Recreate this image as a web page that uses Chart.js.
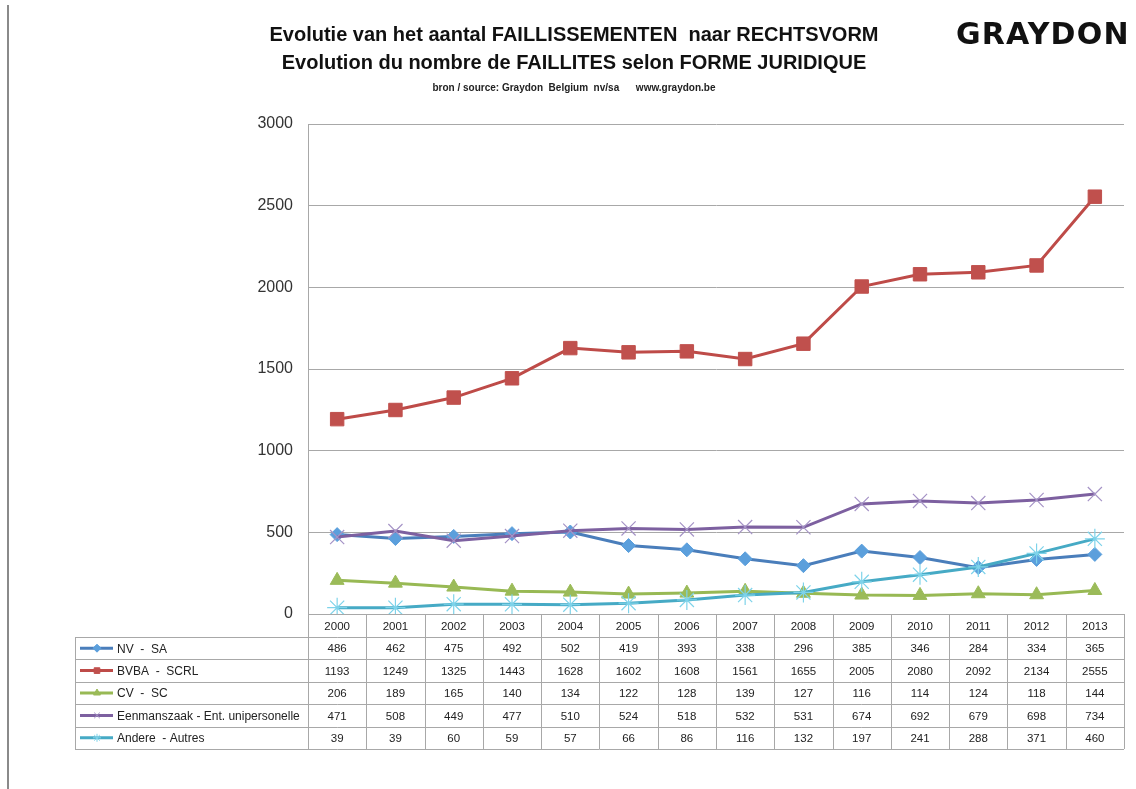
<!DOCTYPE html>
<html>
<head>
<meta charset="utf-8">
<script src="https://cdn.jsdelivr.net/npm/chart.js@4/dist/chart.umd.min.js"></script>
<style>
    body { margin: 0; background: #fff; }
    #wrap { position: relative; width: 1136px; height: 789px; }
    #myChart { position: absolute; left: 0; top: 0; }
    #leftLine { position: absolute; left: 7px; top: 5px; width: 2px; height: 784px; background: #8a8a8a; }
    .t1, .t2, .src { position: absolute; left: 0; width: 1148px; text-align: center; font-family: "Liberation Sans", Arial, sans-serif; font-weight: bold; color: #111; }
    .t1 { top: 23px; font-size: 20px; }
    .t2 { top: 51px; font-size: 20px; }
    .src { top: 82px; font-size: 10px; color: #222; }
    #logo { position: absolute; left: 956px; top: 16px; font-family: "DejaVu Sans", sans-serif; font-weight: bold; font-size: 30px; color: #111; letter-spacing: 1.2px; }
</style>
</head>
<body>
<div id="wrap">
    <canvas id="myChart" width="1136" height="789"></canvas>
    <div id="leftLine"></div>
    <div class="t1">Evolutie van het aantal FAILLISSEMENTEN&nbsp; naar RECHTSVORM</div>
    <div class="t2">Evolution du nombre de FAILLITES selon FORME JURIDIQUE</div>
    <div class="src">bron / source: Graydon&nbsp; Belgium&nbsp; nv/sa&nbsp;&nbsp;&nbsp;&nbsp;&nbsp; www.graydon.be</div>
    <div id="logo">GRAYDON</div>
</div>
<script>
// jaren
var years = ['2000', '2001', '2002', '2003', '2004', '2005', '2006', '2007', '2008', '2009', '2010', '2011', '2012', '2013'];
// rechtsvormen
var nvSa = [486, 462, 475, 492, 502, 419, 393, 338, 296, 385, 346, 284, 334, 365];
var bvbaScrl = [1193, 1249, 1325, 1443, 1628, 1602, 1608, 1561, 1655, 2005, 2080, 2092, 2134, 2555];
var cvSc = [206, 189, 165, 140, 134, 122, 128, 139, 127, 116, 114, 124, 118, 144];
var eenmanszaak = [471, 508, 449, 477, 510, 524, 518, 532, 531, 674, 692, 679, 698, 734];
var andere = [39, 39, 60, 59, 57, 66, 86, 116, 132, 197, 241, 288, 371, 460];
var yTicks = [0, 500, 1000, 1500, 2000, 2500, 3000];

var labels = ['NV  -  SA', 'BVBA  -  SCRL', 'CV  -  SC', 'Eenmanszaak - Ent. unipersonelle', 'Andere  - Autres'];
var lineColors = ['#4A7EBB', '#BE4B48', '#98B954', '#7D60A0', '#46AAC5'];
var markerColors = ['#5B9FDC', '#C0504D', '#9BBB59', '#A593C6', '#7ED3EA'];
var markerStyles = ['rectRot', 'rect', 'triangle', 'crossRot', 'star'];
var markerSizes = [7, 9.5, 8, 10, 10];
var series = [nvSa, bvbaScrl, cvSc, eenmanszaak, andere];

var gridColor = '#a8a8a8';

//data tabel onder de grafiek
var tablePlugin = {
    id: 'dataTable',
    afterDraw: function (chart) {
        var ctx = chart.ctx, xs = chart.scales.x, area = chart.chartArea;
        var n = chart.data.labels.length;
        var colW = xs.width / n;
        var top = area.bottom, hdrH = 23, rowH = 22.4, left = 75;
        var sets = chart.data.datasets;
        var bottom = top + hdrH + rowH * sets.length;
        ctx.save();
        ctx.strokeStyle = gridColor;
        ctx.lineWidth = 1;
        ctx.beginPath();
        for (var r = 0; r <= sets.length; r++) {
            var y = Math.round(top + hdrH + r * rowH) + 0.5;
            ctx.moveTo(left, y);
            ctx.lineTo(area.right, y);
        }
        ctx.moveTo(left + 0.5, top + hdrH);
        ctx.lineTo(left + 0.5, bottom);
        for (var i = 0; i <= n; i++) {
            var x = Math.round(xs.getPixelForValue(0) - colW / 2 + i * colW) + 0.5;
            ctx.moveTo(x, top);
            ctx.lineTo(x, bottom);
        }
        ctx.stroke();

        ctx.fillStyle = '#222';
        ctx.font = '11.5px "Liberation Sans", Arial, sans-serif';
        ctx.textAlign = 'center';
        ctx.textBaseline = 'middle';
        for (var c = 0; c < n; c++) {
            var cx = xs.getPixelForValue(c);
            ctx.fillText(chart.data.labels[c], cx, top + hdrH / 2 + 1);
            for (var s = 0; s < sets.length; s++) {
                ctx.fillText(String(sets[s].data[c]), cx, top + hdrH + rowH * s + rowH / 2 + 1);
            }
        }
        //legenda in de tabel
        ctx.textAlign = 'left';
        ctx.font = '12px "Liberation Sans", Arial, sans-serif';
        for (var k = 0; k < sets.length; k++) {
            var cy = top + hdrH + rowH * k + rowH / 2;
            ctx.strokeStyle = sets[k].borderColor;
            ctx.lineWidth = 3;
            ctx.beginPath();
            ctx.moveTo(80, cy);
            ctx.lineTo(113, cy);
            ctx.stroke();
            ctx.fillStyle = sets[k].pointBackgroundColor;
            ctx.strokeStyle = sets[k].pointBorderColor;
            ctx.lineWidth = 1;
            Chart.helpers.drawPoint(ctx, { pointStyle: sets[k].pointStyle, radius: 4, rotation: 0, borderWidth: 1 }, 97, cy);
            ctx.fillStyle = '#222';
            ctx.fillText(sets[k].label, 117, cy + 1);
        }
        ctx.restore();
    }
};

var datasets = [];
for (var i = 0; i < series.length; i++) {
    datasets.push({
        label: labels[i],
        data: series[i],
        borderColor: lineColors[i],
        borderWidth: 3,
        pointStyle: markerStyles[i],
        pointRadius: markerSizes[i],
        pointBackgroundColor: markerColors[i],
        pointBorderColor: markerColors[i],
        pointBorderWidth: (i >= 3) ? 1.2 : 1,
        tension: 0,
        order: series.length - i
    });
}

var myLineChart = new Chart(document.getElementById('myChart'), {
    type: 'line',
    data: { labels: years, datasets: datasets },
    plugins: [tablePlugin],
    options: {
        responsive: false,
        animation: false,
        devicePixelRatio: 1,
        layout: { padding: { top: 124, right: 12, left: 0, bottom: 0 } },
        plugins: { legend: { display: false }, tooltip: { enabled: false } },
        scales: {
            x: {
                offset: true,
                grid: { display: false },
                border: { display: true, color: gridColor, width: 1 },
                ticks: { display: false },
                afterFit: function (s) { s.height = 789 - 614; }
            },
            y: {
                min: 0,
                max: 3000,
                afterBuildTicks: function (s) { s.ticks = yTicks.map(function (v) { return { value: v }; }); },
                grid: { color: gridColor, drawTicks: false },
                border: { display: true, color: gridColor, width: 1 },
                ticks: {
                    color: '#333',
                    padding: 15,
                    font: { family: '"Liberation Sans", Arial, sans-serif', size: 16 },
                    callback: function (v) { return String(v); }
                },
                afterFit: function (s) { s.width = 308; }
            }
        }
    }
});
</script>
</body>
</html>
